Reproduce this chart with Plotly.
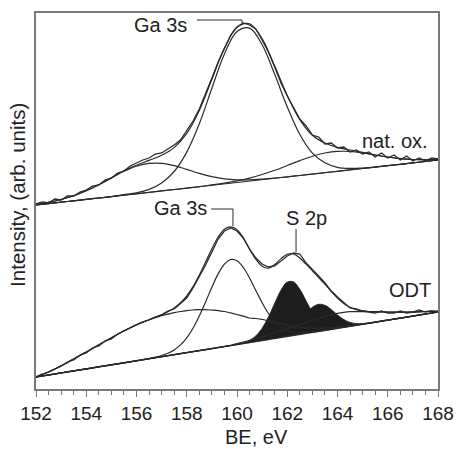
import plotly.graph_objects as go

# ---------------- data ----------------
# energy grids (eV)
E_HALF = [152 + 0.5 * i for i in range(33)]      # 152 ... 168 step 0.5
E_QUARTER = [152 + 0.25 * i for i in range(65)]  # 152 ... 168 step 0.25

# ---- upper spectrum: native oxide (arb. units) ----
UP_BG = [184, 185.4, 186.8, 188.2, 189.6, 191.0, 192.4, 193.8, 195.2, 196.6, 198.1,
         199.5, 200.9, 202.3, 203.7, 205.1, 206.5, 207.9, 209.3, 210.7, 212.1, 213.5,
         214.9, 216.3, 217.7, 219.1, 220.5, 221.9, 223.3, 224.7, 226.1, 227.5, 229.0]
UP_A = [0.6, 1.3, 2.7, 5.0, 8.6, 13.3, 18.7, 23.9, 27.6, 29, 27.6, 23.9, 18.7, 13.3,
        8.6, 5.0, 2.7, 1.3, 0.6, 0.2, 0.1, 0, 0, 0, 0, 0, 0, 0, 0, 0, 0, 0, 0]
UP_B = [0, 0, 0, 0, 0, 0, 0, 0.5, 1, 3, 8, 18, 36, 63, 97, 130, 151, 153, 135, 104,
        70, 41, 21, 10, 4, 1.5, 0.5, 0, 0, 0, 0, 0, 0]
UP_C = [0, 0, 0, 0, 0, 0, 0, 0, 0, 0, 0, 0, 0, 0, 0.4, 0.8, 1.6, 3.0, 5.2, 8.0, 11.4,
        14.9, 17.9, 19.7, 19.9, 18.4, 15.6, 12.1, 8.7, 5.7, 3.4, 1.9, 0.9]
UP_DATA = [185, 187, 186, 190, 189, 193, 193, 197, 199, 203, 204, 209, 211, 216, 218,
           223, 226, 229, 231, 235, 236, 240, 244, 249, 258, 268, 280, 295, 311, 327,
           341, 354, 362, 366, 364, 360, 349, 337, 322, 306, 293, 282, 270, 263, 254,
           252, 245, 246, 241, 242, 237, 239, 235, 237, 232, 236, 231, 234, 229, 233,
           228, 231, 228, 231, 230]

# ---- lower spectrum: ODT ----
LO_BG = [12.0, 13.0, 14.0, 15.0, 16.1, 17.1, 18.1, 19.1, 20.1, 21.1, 22.2, 23.2, 24.2,
         25.2, 26.2, 27.2, 28.2, 29.3, 30.3, 31.3, 32.3, 33.3, 34.3, 35.4, 36.4, 37.4,
         38.4, 39.4, 40.4, 41.5, 42.5, 43.5, 44.5, 45.5, 46.5, 47.5, 48.6, 49.6, 50.6,
         51.6, 52.6, 53.6, 54.7, 55.7, 56.7, 57.7, 58.7, 59.7, 60.7, 61.8, 62.8, 63.8,
         64.8, 65.8, 66.8, 67.9, 68.9, 69.9, 70.9, 71.9, 72.9, 74.0, 75.0, 76.0, 77.0]
LO_D = [0, 1.5, 3, 5, 7, 9.5, 12, 14.5, 17, 19.5, 22, 24.5, 27, 29.5, 32, 34, 36, 37.6,
        39, 40.1, 41, 41.6, 42, 42.1, 42, 41.6, 41, 39.9, 38.5, 36.9, 35, 32.6, 30, 27.3,
        24.5, 23, 21, 18.5, 16, 13.5, 11, 9, 7, 5.5, 4.2, 3.2, 2.4, 1.8, 1.3, 0.9, 0.6,
        0.4, 0.2, 0, 0, 0, 0, 0, 0, 0, 0, 0, 0, 0, 0]
LO_E = [0] * 19 + [0.5, 1.2, 2.5, 4.8, 8.7, 14.8, 23.4, 34.6, 47.7, 61.3, 73.6, 82.3,
                   86, 83.7, 76.0, 64.5, 51.0, 37.6, 25.9, 16.6, 10.0, 5.6, 2.9, 1.4,
                   0.6, 0.3] + [0] * 20
LO_F = [0] * 32 + [0.2, 0.8, 2.2, 5.6, 12.1, 22.3, 35.1, 47.2, 54.3, 53.5, 45.0, 32.4,
                   20.0, 10.5, 4.7, 1.8, 0.6, 0.2] + [0] * 15
LO_G = [0] * 38 + [0.6, 1.6, 3.8, 7.7, 13.4, 19.8, 25.0, 27.0, 25.0, 19.8, 13.4, 7.7,
                   3.8, 1.6, 0.6, 0.2] + [0] * 11
LO_H = [0] * 32 + [1, 1.5, 2, 2.7, 3.5, 4.5, 5.5, 6.5, 7.5, 8.5, 9.5, 10.8, 12, 13, 14,
                   14.6, 15, 14.9, 14.5, 13.6, 12.5, 11.5, 10.5, 9.2, 8, 7, 6, 5, 4,
                   3.2, 2.5, 1.7, 1]
LO_DATA = [12, 15, 17, 20, 23, 27, 29, 34, 36, 41, 43, 48, 50, 55, 58, 61, 64, 67, 69,
           72, 74, 78, 80, 86, 91, 101, 112, 124, 137, 150, 158, 161, 158, 151, 140,
           131, 125, 122, 123, 128, 133, 136, 135, 126, 120, 113, 106, 98, 92, 86, 81,
           80, 78, 77, 76, 78, 76, 76, 78, 76, 77, 79, 77, 78, 77]

X_TICKS = [152, 154, 156, 158, 160, 162, 164, 166, 168]

# ---------------- figure ----------------
LINE = "#2a2a2a"
FRAME = "#7a7a7a"
FONT = "Liberation Sans, Arial, sans-serif"

fig = go.Figure()


def add_line(x, y, width=1.2, color=LINE, shape="spline", **kw):
    fig.add_trace(go.Scatter(x=x, y=y, mode="lines",
                             line=dict(color=color, width=width, shape=shape),
                             hoverinfo="skip", **kw))


def plus(base, comp):
    return [b + c for b, c in zip(base, comp)]


# upper spectrum
add_line(E_HALF, UP_BG, shape="linear")
add_line(E_HALF, plus(UP_BG, UP_A))
add_line(E_HALF, plus(UP_BG, UP_B))
add_line(E_HALF, plus(UP_BG, UP_C))
up_env = [b + a + c1 + c2 for b, a, c1, c2 in zip(UP_BG, UP_A, UP_B, UP_C)]
add_line(E_HALF, up_env)
add_line(E_QUARTER, UP_DATA, width=1.3, shape="linear")

# lower spectrum: filled S 2p doublet
for comp in (LO_F, LO_G):
    fig.add_trace(go.Scatter(x=E_QUARTER, y=LO_BG, mode="lines",
                             line=dict(width=0, color=LINE), hoverinfo="skip"))
    fig.add_trace(go.Scatter(x=E_QUARTER, y=plus(LO_BG, comp), mode="lines",
                             line=dict(width=0.8, color="#1a1a1a", shape="spline"),
                             fill="tonexty", fillcolor="#1e1e1e", hoverinfo="skip"))

add_line(E_QUARTER, LO_BG, width=1.6, shape="linear")
add_line(E_QUARTER, plus(LO_BG, LO_D))
add_line(E_QUARTER, plus(LO_BG, LO_E))
add_line(E_QUARTER, plus(LO_BG, LO_H))
lo_env = [b + d + e + f + g + h for b, d, e, f, g, h in
          zip(LO_BG, LO_D, LO_E, LO_F, LO_G, LO_H)]
add_line(E_QUARTER, lo_env)
add_line(E_QUARTER, LO_DATA, width=1.3, shape="linear")

# label leader lines
for x0, y0, x1, y1 in [(158.41, 369, 160.2, 369), (160.2, 369, 160.2, 366),
                       (158.97, 180, 159.84, 180), (159.84, 180, 159.84, 163),
                       (162.35, 160, 162.35, 137)]:
    fig.add_shape(type="line", x0=x0, y0=y0, x1=x1, y1=y1, xref="x", yref="y",
                  line=dict(color=LINE, width=1))

labels = [("Ga 3s", 156.94, 364), ("nat. ox.", 166.29, 248), ("Ga 3s", 157.77, 181),
          ("S 2p", 162.75, 171), ("ODT", 166.89, 99)]
for txt, x, y in labels:
    fig.add_annotation(x=x, y=y, xref="x", yref="y", text=txt, showarrow=False,
                       font=dict(size=20, color="#222", family=FONT),
                       xanchor="center", yanchor="middle")

# axis titles
fig.add_annotation(x=160.76, y=-0.128, xref="x", yref="paper", text="BE, eV",
                   showarrow=False, font=dict(size=20, color="#222", family=FONT),
                   xanchor="center", yanchor="middle")
fig.add_annotation(x=-0.045, y=0.516, xref="paper", yref="paper",
                   text="Intensity, (arb. units)", textangle=-90, showarrow=False,
                   font=dict(size=20.5, color="#222", family=FONT),
                   xanchor="center", yanchor="middle")

fig.update_layout(
    width=459, height=449,
    margin=dict(l=36, r=21, t=13, b=60, autoexpand=False),
    paper_bgcolor="white", plot_bgcolor="white",
    showlegend=False,
    font=dict(family=FONT, color="#222"),
    xaxis=dict(range=[152, 168], tickvals=X_TICKS, showline=True, mirror=True,
               linecolor=FRAME, linewidth=1.5, ticks="outside", ticklen=6,
               tickwidth=1.2, tickcolor=FRAME, showgrid=False, zeroline=False,
               tickfont=dict(size=19, color="#222", family=FONT),
               minor=dict(dtick=0.5, tick0=152, ticks="outside", ticklen=4,
                          tickwidth=1, tickcolor=FRAME, showgrid=False)),
    yaxis=dict(range=[0, 376], showline=True, mirror=True, linecolor=FRAME,
               linewidth=1.5, ticks="", showticklabels=False, showgrid=False,
               zeroline=False),
)

fig.write_html("out.html",
               config={"displayModeBar": False},
               post_script="document.body.style.margin='0';"
                           "document.body.style.overflow='hidden';")
